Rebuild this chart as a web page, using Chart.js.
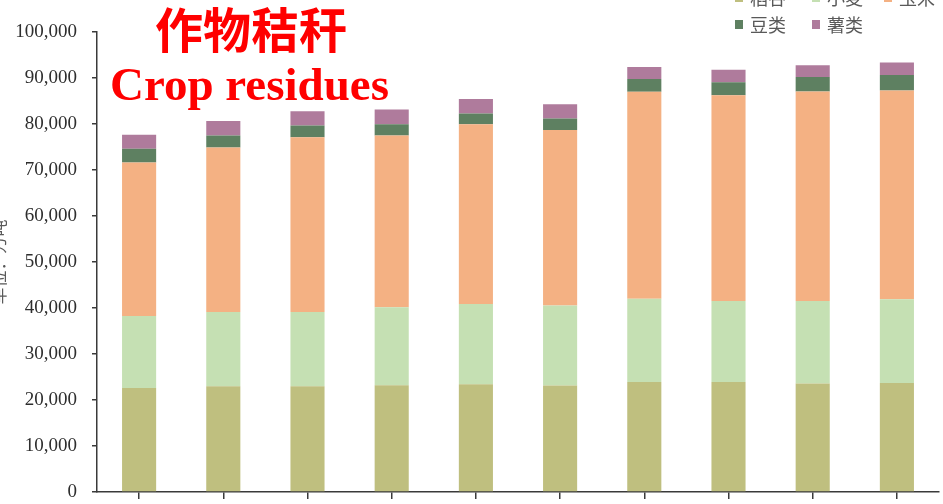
<!DOCTYPE html>
<html>
<head>
<meta charset="utf-8">
<script src="https://cdn.jsdelivr.net/npm/chart.js@4/dist/chart.umd.min.js"></script>
<style>
  html, body { margin: 0; padding: 0; background: #fff; }
  #wrap { position: relative; width: 943px; height: 504px; overflow: hidden; background: #fff; }
  #c { position: absolute; left: -30px; top: -40px; }
  .head { position: absolute; color: #ff0000; white-space: nowrap; }
  #zh { left: 155px; top: 3px; font: bold 48px/48px "Noto Sans CJK SC"; }
  #en { left: 110px; top: 61px; font: bold 47px/47px "Liberation Serif"; }
</style>
</head>
<body>
<div id="wrap">
  <canvas id="c" width="1000" height="584"></canvas>
  <div class="head" id="zh">作物秸秆</div>
  <div class="head" id="en">Crop residues</div>
</div>
<script>
// Straw output by crop type, 万吨
const years    = ['2011', '2012', '2013', '2014', '2015', '2016', '2017', '2018', '2019', '2020'];
const seriesNames = ['稻谷', '小麦', '玉米', '豆类', '薯类'];
const rice     = [22600, 23000, 23000, 23200, 23400, 23130, 23900, 23900, 23570, 23700];
const wheat    = [15650, 16150, 16150, 16950, 17470, 17390, 18130, 17610, 17960, 18190];
const maize    = [33400, 35750, 37980, 37330, 39070, 38170, 45000, 44720, 45520, 45370];
const beans    = [2980, 2600, 2540, 2460, 2330, 2480, 2740, 2830, 3170, 3390];
const tubers   = [3040, 3170, 3110, 3200, 3170, 3110, 2610, 2760, 2540, 2700];
const yTicks   = { min: 0, max: 100000, step: 10000 };

const colors = ['#BFBF7F', '#C5E0B3', '#F4B183', '#5E8061', '#AF7B9C'];

// canvas is shifted so its frame crops the outer edges of the figure
const OX = 30, OY = 40;

// two-row legend in the upper right corner
const legendRows = [[0, 1, 2], [3, 4]];
const legendX = [735, 812, 884];
const legendY = [-3, 24];
const cornerLegend = {
  id: 'cornerLegend',
  afterDraw(chart) {
    const ctx = chart.ctx;
    ctx.save();
    ctx.font = '18px "Noto Sans CJK SC"';
    ctx.textBaseline = 'middle';
    ctx.textAlign = 'left';
    legendRows.forEach((row, r) => {
      row.forEach((idx, k) => {
        const ds = chart.data.datasets[idx];
        const x = OX + legendX[k];
        const y = OY + legendY[r];
        ctx.fillStyle = ds.backgroundColor;
        ctx.fillRect(x, y - 4, 8, 9);
        ctx.fillStyle = '#595959';
        ctx.fillText(ds.label, x + 15, y + 1);
      });
    });
    ctx.restore();
  }
};

const values = [rice, wheat, maize, beans, tubers];
const axisColor = '#3a3a3a';
const labelColor = '#2e2e2e';

new Chart(document.getElementById('c'), {
  type: 'bar',
  data: {
    labels: years,
    datasets: values.map((v, i) => ({
      label: seriesNames[i],
      data: v,
      backgroundColor: colors[i],
      borderWidth: 0,
      barPercentage: 0.405,
      categoryPercentage: 1
    }))
  },
  options: {
    responsive: false,
    animation: false,
    devicePixelRatio: 1,
    layout: { padding: { left: 0, right: 31, top: 72, bottom: 12 } },
    plugins: {
      legend: { display: false },
      tooltip: { enabled: false },
      title: { display: false }
    },
    scales: {
      x: {
        stacked: true,
        offset: true,
        grid: { display: true, drawOnChartArea: false, drawTicks: true, tickLength: 7, color: axisColor, offset: false, lineWidth: 1.5 },
        border: { display: true, color: axisColor, width: 1.5 },
        ticks: { color: labelColor, padding: 12, font: { family: 'Liberation Serif', size: 19 } },
        afterFit: s => { s.height = 40; }
      },
      y: {
        stacked: true,
        min: yTicks.min,
        max: yTicks.max,
        grid: { display: true, drawOnChartArea: false, drawTicks: true, tickLength: 5, color: axisColor, lineWidth: 1.5 },
        border: { display: true, color: axisColor, width: 1.5 },
        ticks: {
          stepSize: yTicks.step,
          color: labelColor,
          padding: 15,
          font: { family: 'Liberation Serif', size: 19 },
          callback: v => Number(v).toLocaleString('en-US')
        },
        title: {
          display: true,
          text: '单位：万吨',
          color: '#595959',
          font: { family: 'Noto Sans CJK SC', size: 17 },
          padding: { top: 18, bottom: 0 }
        },
        afterFit: s => { s.width = 127; }
      }
    }
  },
  plugins: [cornerLegend]
});
</script>
</body>
</html>
